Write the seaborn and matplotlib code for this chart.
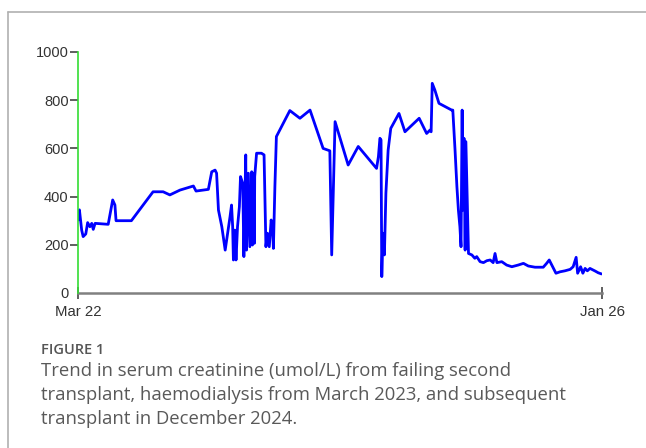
import pandas as pd
import numpy as np

import matplotlib
matplotlib.use("Agg")
import matplotlib.pyplot as plt
from matplotlib.lines import Line2D
import seaborn as sns


# ==================================
# DATA
# ==================================

start_date = "2022-03-01"
end_date = "2026-01-01"

# days since start_date
days = [
    0, 3, 9, 13, 20, 25, 31, 36, 40, 45,
    80, 92, 98, 101, 142, 200, 227, 245, 272, 308,
    315, 348, 357, 366, 370, 375, 384, 393, 397, 402,
    406, 410, 413, 415, 419, 422, 426, 431, 434, 440,
    443, 448, 450, 455, 459, 464, 466, 468, 471, 472,
    477, 490, 497, 502, 506, 511, 516, 520, 522, 526,
    530, 566, 593, 620, 655, 673, 678, 687, 722, 749,
    798, 803, 807, 810, 812, 815, 819, 823, 829, 836,
    858, 874, 912, 932, 941, 944, 947, 954, 965, 999,
    1002, 1008, 1013, 1017, 1021, 1024, 1027, 1029, 1032, 1035,
    1037, 1041, 1044, 1053, 1061, 1066, 1075, 1084, 1093, 1102,
    1110, 1115, 1120, 1133, 1146, 1160, 1177, 1191, 1204, 1222,
    1244, 1253, 1260, 1267, 1278, 1289, 1302, 1316, 1324, 1332,
    1336, 1344, 1350, 1356, 1362, 1369, 1383, 1391, 1400,
]

creatinine = [
    303, 345, 261, 234, 245, 292, 275, 289, 264, 289,
    285, 386, 365, 300, 300, 420, 420, 407, 427, 444,
    423, 430, 503, 510, 497, 344, 275, 178, 220, 275,
    317, 365, 275, 137, 261, 137, 275, 358, 483, 455,
    151, 573, 178, 497, 192, 503, 199, 497, 206, 483,
    580, 580, 573, 192, 248, 192, 303, 261, 185, 441,
    649, 757, 725, 759, 600, 590, 158, 711, 531, 608,
    517, 566, 642, 635, 68, 248, 158, 414, 593, 683,
    745, 669, 725, 662, 676, 669, 870, 842, 787, 759,
    759, 593, 441, 344, 275, 192, 759, 344, 642, 178,
    628, 358, 164, 158, 144, 151, 130, 126, 134, 137,
    126, 164, 126, 130, 116, 109, 116, 123, 112, 107,
    107, 123, 137, 116, 82, 88, 92, 98, 109, 148,
    82, 109, 82, 102, 92, 102, 91, 84, 79,
]

y_ticks = [0, 200, 400, 600, 800, 1000]
x_tick_labels = ["Mar 22", "Jan 26"]

caption_head = "FIGURE 1"
caption_body = (
    "Trend in serum creatinine (umol/L) from failing second\n"
    "transplant, haemodialysis from March 2023, and subsequent\n"
    "transplant in December 2024."
)


# ==================================
# FRAME
# ==================================

df = pd.DataFrame({
    "date": pd.Timestamp(start_date) + pd.to_timedelta(days, unit="D"),
    "creatinine": creatinine,
})

sns.set_theme(style="white")
plt.rcParams["font.family"] = ["Liberation Sans", "DejaVu Sans"]

fig = plt.figure(figsize=(6.46, 4.48), dpi=100)
ax = fig.add_axes([78.3 / 646, 1 - 293 / 448, (602.3 - 78.3) / 646, (293 - 52) / 448])

sns.lineplot(
    data=df,
    x="date",
    y="creatinine",
    sort=False,
    estimator=None,
    color="#0000ff",
    linewidth=2.0,
    ax=ax,
)

ax.set_xlim(pd.Timestamp(start_date), pd.Timestamp(end_date))
ax.set_ylim(0, 1000)

ax.set_xticks([pd.Timestamp(start_date), pd.Timestamp(end_date)])
ax.set_xticklabels(x_tick_labels)
ax.set_yticks(y_ticks)
ax.set_yticklabels([str(v) for v in y_ticks])

ax.set_xlabel("")
ax.set_ylabel("")

for side in ["top", "right"]:
    ax.spines[side].set_visible(False)

ax.spines["left"].set_color("#33dd33")
ax.spines["left"].set_linewidth(1.2)
ax.spines["left"].set_zorder(5)
ax.spines["bottom"].set_color("#808080")
ax.spines["bottom"].set_linewidth(1.8)

ax.tick_params(
    axis="y", direction="out", length=6, width=1.2,
    color="#444444", pad=1, labelsize=10.5, labelcolor="#333333",
    left=True,
)
ax.tick_params(
    axis="x", direction="inout", length=8, width=1.2,
    color="#444444", pad=4.5, labelsize=10.8, labelcolor="#333333",
    bottom=True,
)
ax.yaxis.get_major_ticks()[0].tick1line.set_visible(False)

ax.patch.set_alpha(0)


# ==================================
# PAGE BORDER + CAPTION
# ==================================

fig.add_artist(Line2D([8 / 646, 1], [1 - 12 / 448, 1 - 12 / 448],
                      color="#b0b0b0", linewidth=1.2))
fig.add_artist(Line2D([8 / 646, 8 / 646], [0, 1 - 12 / 448],
                      color="#b0b0b0", linewidth=1.2))

fig.text(41 / 646, 1 - 354 / 448, caption_head,
         family=["Open Sans", "DejaVu Sans"], fontsize=10.5,
         fontweight="semibold", color="#555555", va="baseline")

fig.text(41 / 646, 1 - 362 / 448, caption_body,
         family=["Open Sans", "DejaVu Sans"], fontsize=13.3,
         color="#595959", va="top", linespacing=1.42)

fig.savefig("out.png", dpi=100)
